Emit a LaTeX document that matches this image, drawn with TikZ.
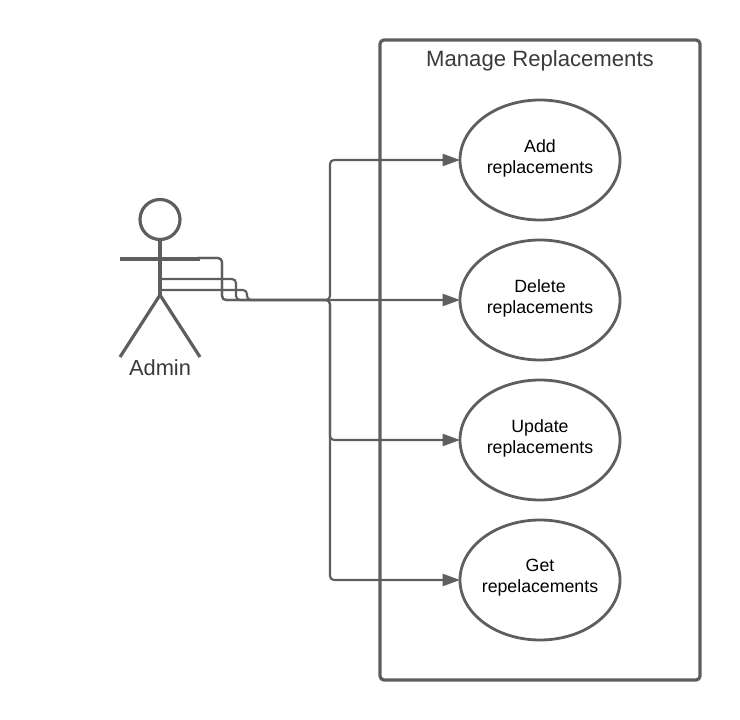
\documentclass[tikz,border=0pt]{standalone}
\usepackage{fontspec}
\setmainfont{Liberation Sans}
\usetikzlibrary{shapes.geometric, arrows.meta, positioning}
\definecolor{linegray}{HTML}{5E5E5E}
\definecolor{textgray}{HTML}{3A3A3A}
\tikzstyle{arrow} = [line width=1.6pt, linegray, rounded corners=3pt, -{Triangle[length=13pt, width=9pt]}]
\tikzstyle{usecase} = [draw=linegray, line width=2.1pt, ellipse, fill=white, minimum width=120pt, minimum height=90pt, inner sep=-10pt, outer sep=0pt]
\tikzstyle{casetext} = [align=center, yshift=1.5pt, font=\fontsize{13.3}{15.8}\selectfont]
\tikzstyle{limb} = [draw=linegray, line width=2.4pt]

\begin{document}
\begin{tikzpicture}[x=0.75pt, y=-0.75pt]
    \useasboundingbox (0,0) rectangle (740,720);

    % Nodes
    \node[draw=linegray, line width=2.4pt, rounded corners=3pt, minimum width=240pt, minimum height=480pt] (system) at (540,360) {};
    \node[text=textgray, font=\fontsize{16.6}{20}\selectfont] (title) at (540,60.5) {Manage Replacements};
    \node[usecase, label={[casetext]center:Add\\replacements}] (add) at (540,160) {};
    \node[usecase, below=15pt of add, label={[casetext]center:Delete\\replacements}] (delete) {};
    \node[usecase, below=15pt of delete, label={[casetext]center:Update\\replacements}] (update) {};
    \node[usecase, below=15pt of update, label={[casetext]center:Get\\repelacements}] (get) {};

    % Actor
    \node[draw=linegray, line width=2.4pt, circle, minimum size=30pt, inner sep=0pt] (head) at (160,219.5) {};
    \node[text=textgray, font=\fontsize{16.4}{20}\selectfont] (admin) at (160,368) {Admin};
    \coordinate (hip) at (160,295);
    \coordinate (lefthand) at (120,259);
    \coordinate (righthand) at (200,259);
    \coordinate (leftfoot) at (120,357);
    \coordinate (rightfoot) at (200,357);
    \coordinate (armend) at (198,258);
    \coordinate (chest) at (160,279);
    \coordinate (belly) at (160,290);
    \draw[limb] (head) -- (hip);
    \draw[limb] (lefthand) -- (righthand);
    \draw[limb] (leftfoot) -- (hip) -- (rightfoot);

    % Edges
    \coordinate (bendA) at (222,300);
    \coordinate (bendB) at (236,300);
    \coordinate (bendC) at (247,300);
    \coordinate (trunk) at (330,300);
    \draw[arrow] (armend) -| (bendA) -- (trunk) |- (add.west);
    \draw[arrow] (chest) -| (bendB) -- (delete.west);
    \draw[arrow] (belly) -| (bendC) -- (trunk) |- (update.west);
    \draw[arrow] (armend) -| (bendA) -- (trunk) |- (get.west);
\end{tikzpicture}
\end{document}
